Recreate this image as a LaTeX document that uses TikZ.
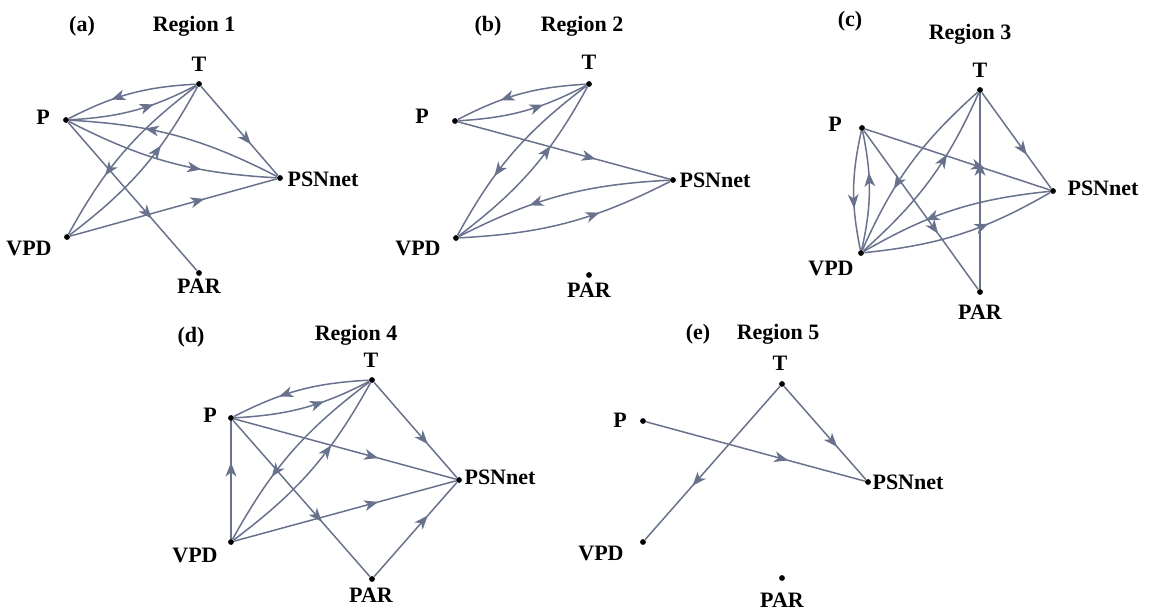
\documentclass[tikz,border=0pt]{standalone}
\usepackage{fontspec}
\setmainfont{Liberation Serif}
\usetikzlibrary{arrows.meta,decorations.markings}
\definecolor{edgecol}{RGB}{104,114,140}
\tikzset{
  vdot/.style={circle,fill=black,draw=none,inner sep=0pt,minimum size=2.9pt},
  lbl/.style={font=\bfseries\fontsize{11pt}{13pt}\selectfont,inner sep=0pt,anchor=base},
  edg/.style={draw=edgecol,line width=0.75pt,postaction={decorate},
    decoration={markings,mark=at position 0.65 with {\arrow[edgecol]{Stealth[length=7pt,width=5.4pt,inset=2pt]}}}},
  bnd/.style={edg,bend right=12}
}
\begin{document}
\begin{tikzpicture}[x=0.5pt,y=0.5pt]
\useasboundingbox (0,0) rectangle (1155,-610);
% ---------- (a) ----------
\node[lbl] (aH) at (82,-32) {(a)};
\node[lbl] (aTi) at (194,-32) {Region 1};
\node[vdot] (aT) at (199,-84) {};
\node[vdot] (aP) at (66,-120) {};
\node[vdot] (aN) at (280,-178) {};
\node[vdot] (aV) at (67,-237) {};
\node[vdot] (aR) at (199,-273) {};
\node[lbl] (aTl) at (199,-72) {T};
\node[lbl] (aPl) at (43,-125) {P};
\node[lbl] (aNl) at (323,-186) {PSNnet};
\node[lbl] (aVl) at (29,-255) {VPD};
\node[lbl] (aRl) at (199,-293) {PAR};
\draw[bnd] (aT) to (aP);
\draw[bnd] (aP) to (aT);
\draw[bnd] (aP) to (aN);
\draw[bnd] (aN) to (aP);
\draw[edg] (aT) -- (aN);
\draw[bnd] (aT) to (aV);
\draw[bnd] (aV) to (aT);
\draw[edg] (aV) -- (aN);
\draw[edg] (aP) -- (aR);
% ---------- (b) ----------
\node[lbl] (bH) at (488,-32) {(b)};
\node[lbl] (bTi) at (582,-32) {Region 2};
\node[vdot] (bT) at (589,-84) {};
\node[vdot] (bP) at (455,-121) {};
\node[vdot] (bN) at (673,-180) {};
\node[vdot] (bV) at (456,-238) {};
\node[vdot] (bR) at (589,-275) {};
\node[lbl] (bTl) at (589,-69) {T};
\node[lbl] (bPl) at (422,-124) {P};
\node[lbl] (bNl) at (715,-187) {PSNnet};
\node[lbl] (bVl) at (418,-255) {VPD};
\node[lbl] (bRl) at (589,-297) {PAR};
\draw[bnd] (bT) to (bP);
\draw[bnd] (bP) to (bT);
\draw[edg] (bP) -- (bN);
\draw[bnd] (bT) to (bV);
\draw[bnd] (bV) to (bT);
\draw[bnd] (bN) to (bV);
\draw[bnd] (bV) to (bN);
% ---------- (c) ----------
\node[lbl] (cH) at (850,-27) {(c)};
\node[lbl] (cTi) at (970,-40) {Region 3};
\node[vdot] (cT) at (980,-90) {};
\node[vdot] (cP) at (862,-128) {};
\node[vdot] (cN) at (1053,-191) {};
\node[vdot] (cV) at (861,-253) {};
\node[vdot] (cR) at (980,-292) {};
\node[lbl] (cTl) at (980,-77) {T};
\node[lbl] (cPl) at (835,-132) {P};
\node[lbl] (cNl) at (1103,-195) {PSNnet};
\node[lbl] (cVl) at (831,-275) {VPD};
\node[lbl] (cRl) at (980,-319) {PAR};
\draw[bnd] (cP) to (cV);
\draw[bnd] (cV) to (cP);
\draw[edg] (cP) -- (cN);
\draw[edg] (cP) -- (cR);
\draw[bnd] (cT) to (cV);
\draw[bnd] (cV) to (cT);
\draw[edg] (cR) -- (cT);
\draw[edg] (cT) -- (cN);
\draw[bnd] (cN) to (cV);
\draw[bnd] (cV) to (cN);
% ---------- (d) ----------
\node[lbl] (dH) at (191,-342) {(d)};
\node[lbl] (dTi) at (356,-340) {Region 4};
\node[vdot] (dT) at (372,-380) {};
\node[vdot] (dP) at (231,-418) {};
\node[vdot] (dN) at (459,-480) {};
\node[vdot] (dV) at (231,-542) {};
\node[vdot] (dR) at (372,-579) {};
\node[lbl] (dTl) at (371,-367) {T};
\node[lbl] (dPl) at (210,-422) {P};
\node[lbl] (dNl) at (500,-484) {PSNnet};
\node[lbl] (dVl) at (195,-562) {VPD};
\node[lbl] (dRl) at (371,-602) {PAR};
\draw[bnd] (dT) to (dP);
\draw[bnd] (dP) to (dT);
\draw[edg] (dV) -- (dP);
\draw[edg] (dP) -- (dN);
\draw[edg] (dP) -- (dR);
\draw[bnd] (dT) to (dV);
\draw[bnd] (dV) to (dT);
\draw[edg] (dT) -- (dN);
\draw[edg] (dV) -- (dN);
\draw[edg] (dR) -- (dN);
% ---------- (e) ----------
\node[lbl] (eH) at (698,-339) {(e)};
\node[lbl] (eTi) at (778,-339) {Region 5};
\node[vdot] (eT) at (782,-384) {};
\node[vdot] (eP) at (643,-421) {};
\node[vdot] (eN) at (868,-482) {};
\node[vdot] (eV) at (643,-542) {};
\node[vdot] (eR) at (782,-578) {};
\node[lbl] (eTl) at (780,-370) {T};
\node[lbl] (ePl) at (620,-427) {P};
\node[lbl] (eNl) at (908,-489) {PSNnet};
\node[lbl] (eVl) at (601,-560) {VPD};
\node[lbl] (eRl) at (782,-607) {PAR};
\draw[edg] (eT) -- (eV);
\draw[edg] (eP) -- (eN);
\draw[edg] (eT) -- (eN);
\end{tikzpicture}
\end{document}
